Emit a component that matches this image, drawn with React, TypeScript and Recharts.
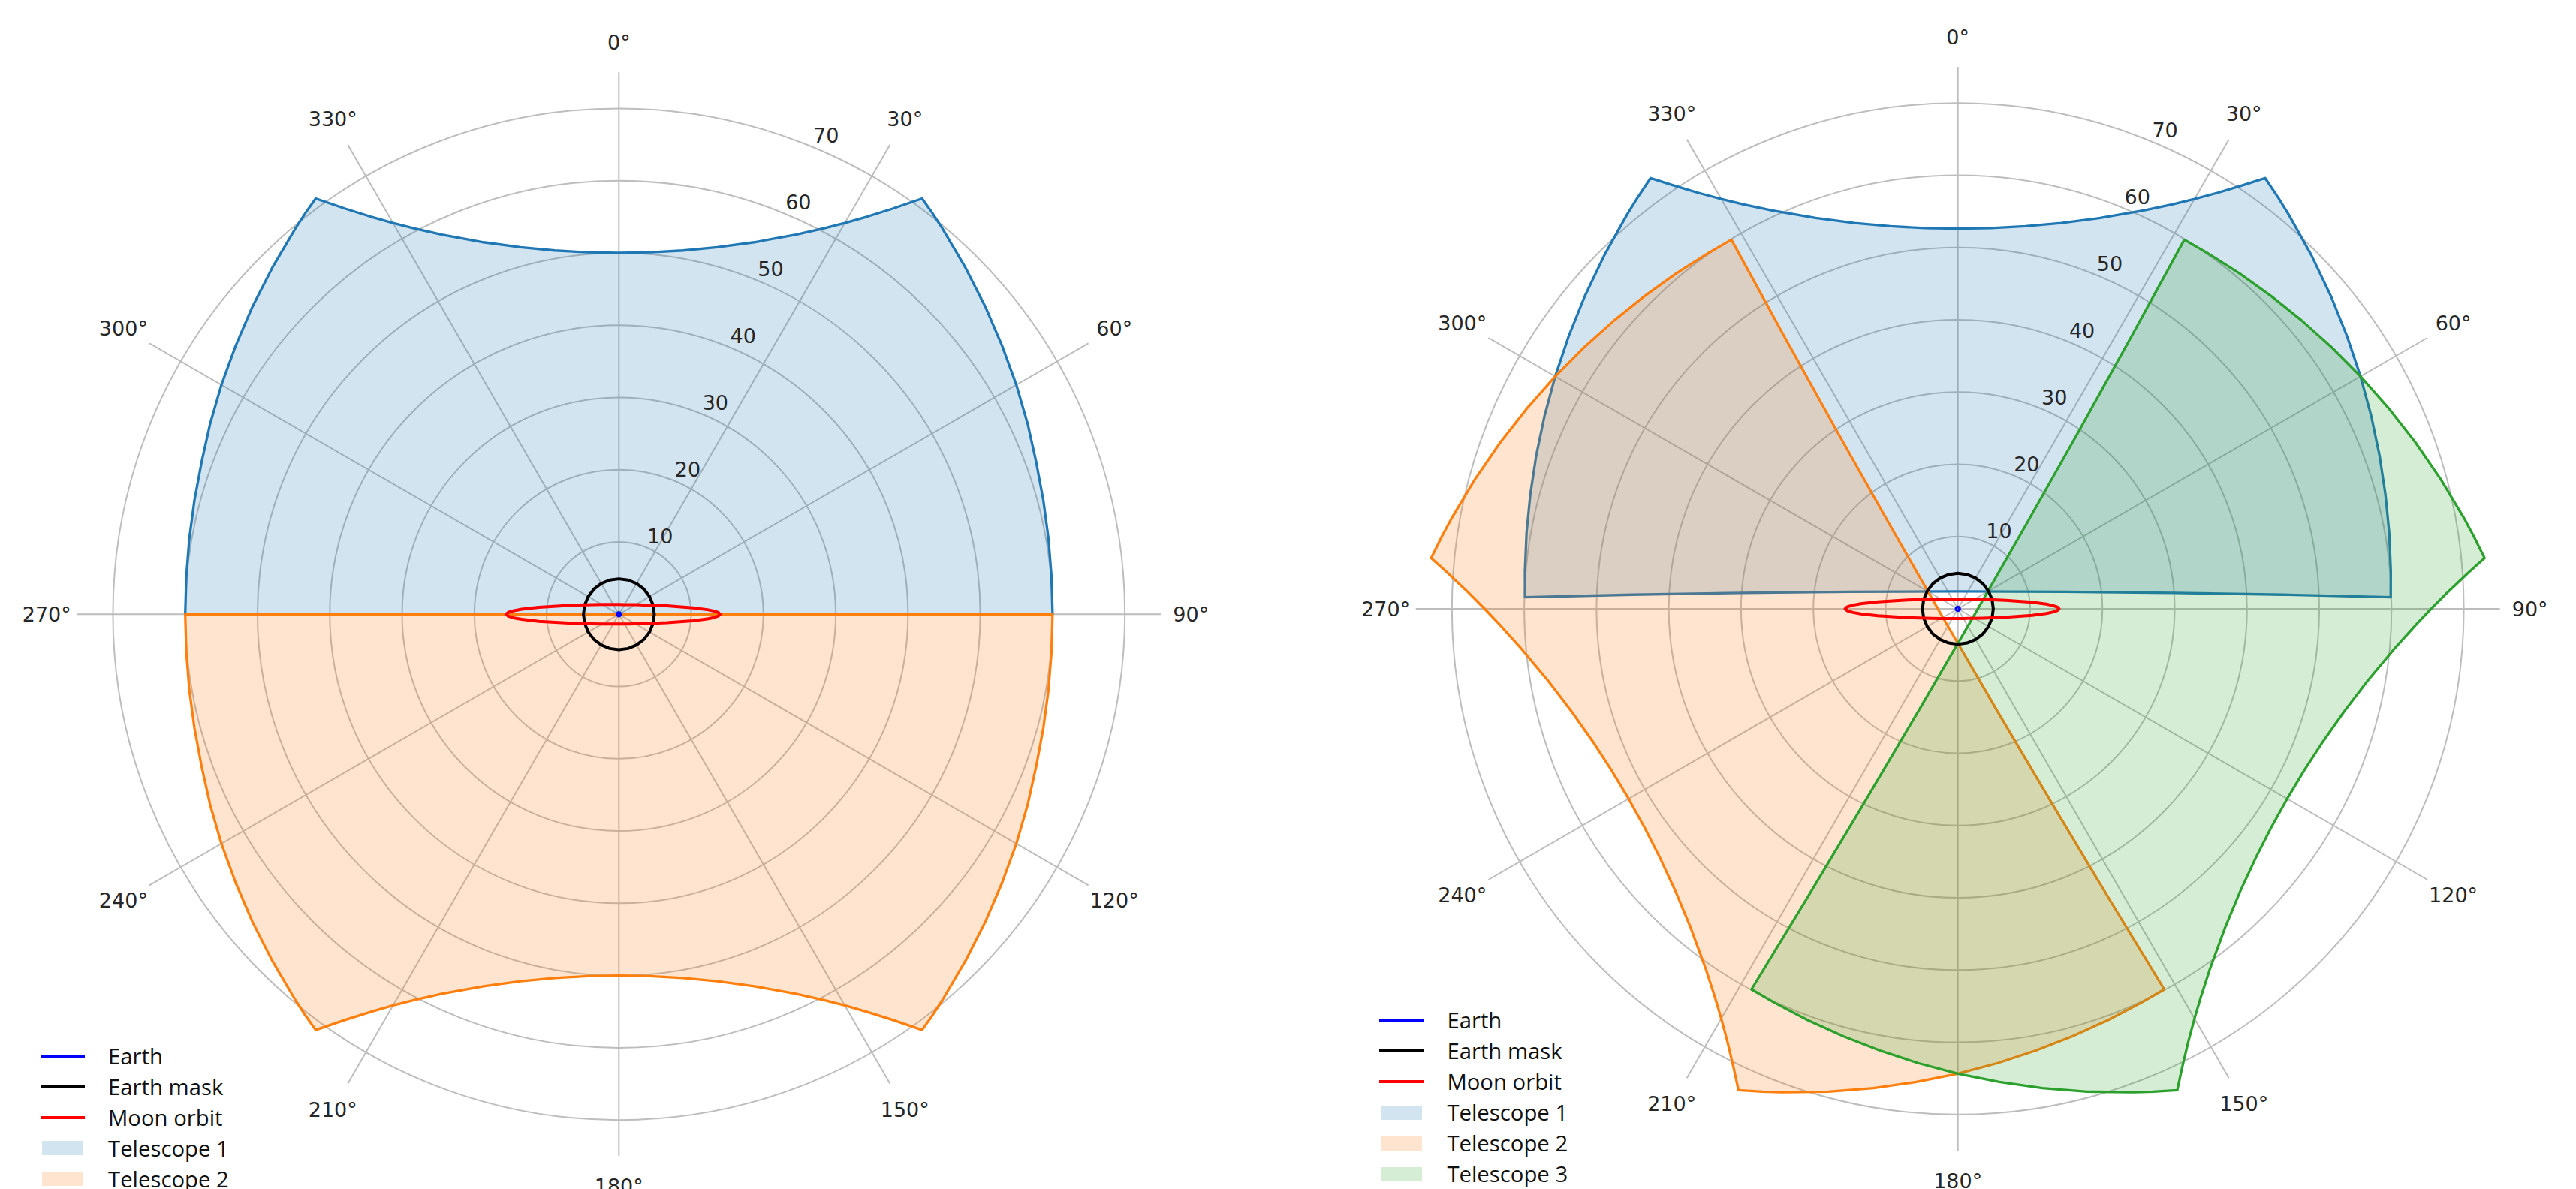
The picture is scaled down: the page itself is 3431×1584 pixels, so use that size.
import { RadarChart, Radar, PolarGrid, PolarAngleAxis, PolarRadiusAxis, Polygon } from "recharts";

// angle ticks (deg, clockwise from north) and radial ticks
const ANGLE_TICKS = [0, 30, 60, 90, 120, 150, 180, 210, 240, 270, 300, 330];
const RADIUS_TICKS = [10, 20, 30, 40, 50, 60, 70];

// Earth (small dot at the origin)
const EARTH_THETA = [0, 30, 60, 90, 120, 150, 180, 210, 240, 270, 300, 330];
const EARTH_R = [0.25, 0.25, 0.25, 0.25, 0.25, 0.25, 0.25, 0.25, 0.25, 0.25, 0.25, 0.25];

// Earth mask circle
const MASK_THETA = [0, 15, 30, 45, 60, 75, 90, 105, 120, 135, 150, 165, 180, 195, 210, 225, 240, 255, 270, 285, 300, 315, 330, 345];
const MASK_R = [4.9, 4.9, 4.9, 4.9, 4.9, 4.9, 4.9, 4.9, 4.9, 4.9, 4.9, 4.9, 4.9, 4.9, 4.9, 4.9, 4.9, 4.9, 4.9, 4.9, 4.9, 4.9, 4.9, 4.9];

// Moon orbit (thin ellipse, Earth near one focus)
const MOON_THETA = [0, 30, 45, 60, 70, 80, 85, 87, 88, 89, 90, 91, 92, 93, 95, 100, 110, 120, 135, 150, 180, 210, 225, 240, 250, 260, 265, 267, 268, 269, 270, 271, 272, 273, 275, 280, 290, 300, 315, 330];
const MOON_R = [1.35, 1.55, 1.89, 2.64, 3.77, 6.72, 10.3, 12.25, 13.13, 13.76, 14.0, 13.76, 13.13, 12.25, 10.3, 6.72, 3.77, 2.64, 1.89, 1.55, 1.35, 1.56, 1.91, 2.69, 3.87, 7.07, 11.13, 13.45, 14.52, 15.31, 15.6, 15.31, 14.52, 13.45, 11.13, 7.07, 3.87, 2.69, 1.91, 1.56];

// left plot: two telescopes
const L_T1_THETA = [270, 275, 280, 285, 290, 295, 300, 305, 310, 315, 320, 322, 323.9, 325, 326, 328, 330, 332, 335, 340, 345, 350, 355, 0, 5, 10, 15, 20, 25, 28, 30, 32, 34, 35, 36.1, 38, 40, 45, 50, 55, 60, 65, 70, 75, 80, 85, 90];
const L_T1_R = [60, 60.08, 60.35, 60.8, 61.45, 62.4, 63.5, 64.74, 66.19, 67.82, 69.66, 70.45, 71.2, 69.31, 67.7, 64.89, 62.51, 60.49, 57.95, 54.78, 52.57, 51.11, 50.27, 50, 50.27, 51.11, 52.57, 54.78, 57.95, 60.49, 62.51, 64.89, 67.7, 69.31, 71.2, 70.45, 69.66, 67.82, 66.19, 64.74, 63.5, 62.4, 61.45, 60.8, 60.35, 60.08, 60];
const L_T2_THETA = [90, 95, 100, 105, 110, 115, 120, 125, 130, 135, 140, 142, 143.9, 145, 146, 148, 150, 152, 155, 160, 165, 170, 175, 180, 185, 190, 195, 200, 205, 208, 210, 212, 214, 215, 216.1, 218, 220, 225, 230, 235, 240, 245, 250, 255, 260, 265, 270];
const L_T2_R = [60, 60.08, 60.35, 60.8, 61.45, 62.4, 63.5, 64.74, 66.19, 67.82, 69.66, 70.45, 71.2, 69.31, 67.7, 64.89, 62.51, 60.49, 57.95, 54.78, 52.57, 51.11, 50.27, 50, 50.27, 51.11, 52.57, 54.78, 57.95, 60.49, 62.51, 64.89, 67.7, 69.31, 71.2, 70.45, 69.66, 67.82, 66.19, 64.74, 63.5, 62.4, 61.45, 60.8, 60.35, 60.08, 60];

// right plot: three telescopes
const R_T1_THETA = [271.53, 275, 280, 285, 290, 295, 300, 305, 310, 315, 320, 322, 324.5, 325, 326, 328, 330, 332, 335, 340, 345, 350, 355, 0, 5, 10, 15, 20, 25, 28, 30, 32, 34, 35, 35.5, 38, 40, 45, 50, 55, 60, 65, 70, 75, 80, 85, 88.47, 87.52, 85.81, 81.1, 0, 278.9, 274.19, 272.48];
const R_T1_R = [59.91, 60.13, 60.6, 61.24, 62.08, 63.11, 64.33, 65.74, 67.36, 69.18, 71.21, 72.08, 73.21, 72.36, 70.74, 67.89, 65.48, 63.41, 60.82, 57.54, 55.26, 53.75, 52.88, 52.6, 52.88, 53.75, 55.26, 57.54, 60.82, 63.41, 65.48, 67.89, 70.74, 72.36, 73.21, 72.08, 71.21, 69.18, 67.36, 65.74, 64.33, 63.11, 62.08, 61.24, 60.6, 60.13, 59.91, 45.04, 30.08, 15.18, 2.4, 15.18, 30.08, 45.04];
const R_T2_THETA = [151.53, 155, 160, 165, 170, 175, 180, 185, 190, 195, 200, 202, 204.5, 205, 206, 208, 210, 212, 215, 220, 225, 230, 235, 240, 245, 250, 255, 260, 265, 268, 270, 272, 274, 275, 275.5, 278, 280, 285, 290, 295, 300, 305, 310, 315, 320, 325, 328.47, 327.52, 325.81, 321.1, 240, 158.9, 154.19, 152.48];
const R_T2_R = [59.91, 60.13, 60.6, 61.24, 62.08, 63.11, 64.33, 65.74, 67.36, 69.18, 71.21, 72.08, 73.21, 72.36, 70.74, 67.89, 65.48, 63.41, 60.82, 57.54, 55.26, 53.75, 52.88, 52.6, 52.88, 53.75, 55.26, 57.54, 60.82, 63.41, 65.48, 67.89, 70.74, 72.36, 73.21, 72.08, 71.21, 69.18, 67.36, 65.74, 64.33, 63.11, 62.08, 61.24, 60.6, 60.13, 59.91, 45.04, 30.08, 15.18, 2.4, 15.18, 30.08, 45.04];
const R_T3_THETA = [31.53, 35, 40, 45, 50, 55, 60, 65, 70, 75, 80, 82, 84.5, 85, 86, 88, 90, 92, 95, 100, 105, 110, 115, 120, 125, 130, 135, 140, 145, 148, 150, 152, 154, 155, 155.5, 158, 160, 165, 170, 175, 180, 185, 190, 195, 200, 205, 208.47, 207.52, 205.81, 201.1, 120, 38.9, 34.19, 32.48];
const R_T3_R = [59.91, 60.13, 60.6, 61.24, 62.08, 63.11, 64.33, 65.74, 67.36, 69.18, 71.21, 72.08, 73.21, 72.36, 70.74, 67.89, 65.48, 63.41, 60.82, 57.54, 55.26, 53.75, 52.88, 52.6, 52.88, 53.75, 55.26, 57.54, 60.82, 63.41, 65.48, 67.89, 70.74, 72.36, 73.21, 72.08, 71.21, 69.18, 67.36, 65.74, 64.33, 63.11, 62.08, 61.24, 60.6, 60.13, 59.91, 45.04, 30.08, 15.18, 2.4, 15.18, 30.08, 45.04];

type Series = { key: string; name: string; color: string; theta: number[]; r: number[]; patch?: boolean };

const LINES: Series[] = [
  { key: "earth", name: "Earth", color: "#0000ff", theta: EARTH_THETA, r: EARTH_R },
  { key: "mask", name: "Earth mask", color: "#000000", theta: MASK_THETA, r: MASK_R },
  { key: "moon", name: "Moon orbit", color: "#ff0000", theta: MOON_THETA, r: MOON_R },
];

const LEFT_TELESCOPES: Series[] = [
  { key: "t1", name: "Telescope 1", color: "#1f77b4", theta: L_T1_THETA, r: L_T1_R, patch: true },
  { key: "t2", name: "Telescope 2", color: "#ff7f0e", theta: L_T2_THETA, r: L_T2_R, patch: true },
];

const RIGHT_TELESCOPES: Series[] = [
  { key: "t1", name: "Telescope 1", color: "#1f77b4", theta: R_T1_THETA, r: R_T1_R, patch: true },
  { key: "t2", name: "Telescope 2", color: "#ff7f0e", theta: R_T2_THETA, r: R_T2_R, patch: true },
  { key: "t3", name: "Telescope 3", color: "#2ca02c", theta: R_T3_THETA, r: R_T3_R, patch: true },
];

// each series gets its own rows; other series have no value there
function buildRows(series: Series[]) {
  const rows: Record<string, number>[] = [];
  for (const s of series) {
    s.theta.forEach((t, i) => rows.push({ theta: t, [s.key]: s.r[i] }));
  }
  return rows;
}

// draw only the points that belong to this series
function seriesShape(key: string, stroke: string, strokeWidth: number, fill: string, fillOpacity: number) {
  return (props: any) => {
    const pts = (props.points || []).filter(
      (p: any) => p.payload && p.payload[key] != null && Number.isFinite(p.x) && Number.isFinite(p.y)
    );
    return (
      <Polygon
        points={pts}
        stroke={stroke}
        strokeWidth={strokeWidth}
        strokeLinejoin="round"
        fill={fill}
        fillOpacity={fillOpacity}
      />
    );
  };
}

const FONT = "'DejaVu Sans', sans-serif";

function AngleTick(props: any) {
  const { x, y, payload } = props;
  return (
    <text x={x} y={y} textAnchor="middle" dominantBaseline="central" fontFamily={FONT} fontSize={27} fill="#262626">
      {`${payload.value}°`}
    </text>
  );
}

function RadiusTick(props: any) {
  const { x, y, payload } = props;
  return (
    <text x={x + 18} y={y - 15} textAnchor="middle" dominantBaseline="central" fontFamily={FONT} fontSize={27} fill="#262626">
      {payload.value}
    </text>
  );
}

function PolarLegend({ items, left, top }: { items: Series[]; left: number; top: number }) {
  return (
    <div style={{ position: "absolute", left, top, fontFamily: "'Open Sans', sans-serif", fontSize: 29.3, color: "#111" }}>
      {items.map((s) => (
        <div key={s.name} style={{ height: 41, display: "flex", alignItems: "center" }}>
          <div style={{ width: 90, display: "flex", alignItems: "center" }}>
            {s.patch ? (
              <div style={{ marginLeft: 2, width: 55, height: 19, background: s.color, opacity: 0.2 }} />
            ) : (
              <div style={{ width: 59, height: 4, background: s.color }} />
            )}
          </div>
          <span style={{ whiteSpace: "nowrap" }}>{s.name}</span>
        </div>
      ))}
    </div>
  );
}

function OrbitPolar({ telescopes, left, width, cx, cy, legendTop }: { telescopes: Series[]; left: number; width: number; cx: number; cy: number; legendTop: number }) {
  const data = buildRows([...telescopes, ...LINES]);
  return (
    <div style={{ position: "absolute", left, top: 0, width, height: 1584 }}>
      <RadarChart
        width={width}
        height={1584}
        data={data}
        cx={cx}
        cy={cy}
        outerRadius={722}
        startAngle={90}
        endAngle={-270}
        margin={{ top: 0, right: 0, bottom: 0, left: 0 }}
      >
        <PolarGrid gridType="circle" stroke="#bdbdbd" strokeWidth={2} />
        <PolarAngleAxis
          dataKey="theta"
          type="number"
          domain={[0, 360]}
          ticks={ANGLE_TICKS}
          tick={(p: any) => <AngleTick {...p} />}
          tickLine={false}
          axisLine={false}
          tickSize={40}
        />
        <PolarRadiusAxis
          angle={67.5}
          type="number"
          domain={[0, 75]}
          ticks={RADIUS_TICKS}
          allowDataOverflow
          tick={(p: any) => <RadiusTick {...p} />}
          axisLine={false}
          tickLine={false}
        />
        {telescopes.map((t) => (
          <Radar
            key={t.key}
            dataKey={t.key}
            name={t.name}
            stroke={t.color}
            fill={t.color}
            fillOpacity={0.2}
            shape={seriesShape(t.key, t.color, 3.3, t.color, 0.2)}
            dot={false}
            activeDot={false}
            isAnimationActive={false}
          />
        ))}
        {LINES.map((l) => (
          <Radar
            key={l.key}
            dataKey={l.key}
            name={l.name}
            stroke={l.color}
            fill="none"
            shape={seriesShape(l.key, l.color, l.key === "earth" ? 3.5 : 4, "none", 0)}
            dot={false}
            activeDot={false}
            isAnimationActive={false}
          />
        ))}
      </RadarChart>
      <PolarLegend items={[...LINES, ...telescopes]} left={54 + cx - 824.3} top={legendTop} />
    </div>
  );
}

export default function App() {
  return (
    <div style={{ position: "absolute", left: 0, top: 0, width: 3431, height: 1584, overflow: "hidden", background: "#fff" }}>
      <OrbitPolar telescopes={LEFT_TELESCOPES} left={0} width={1715} cx={824.3} cy={818.3} legendTop={1386} />
      <OrbitPolar telescopes={RIGHT_TELESCOPES} left={1715} width={1716} cx={892.7} cy={811} legendTop={1338.5} />
    </div>
  );
}
